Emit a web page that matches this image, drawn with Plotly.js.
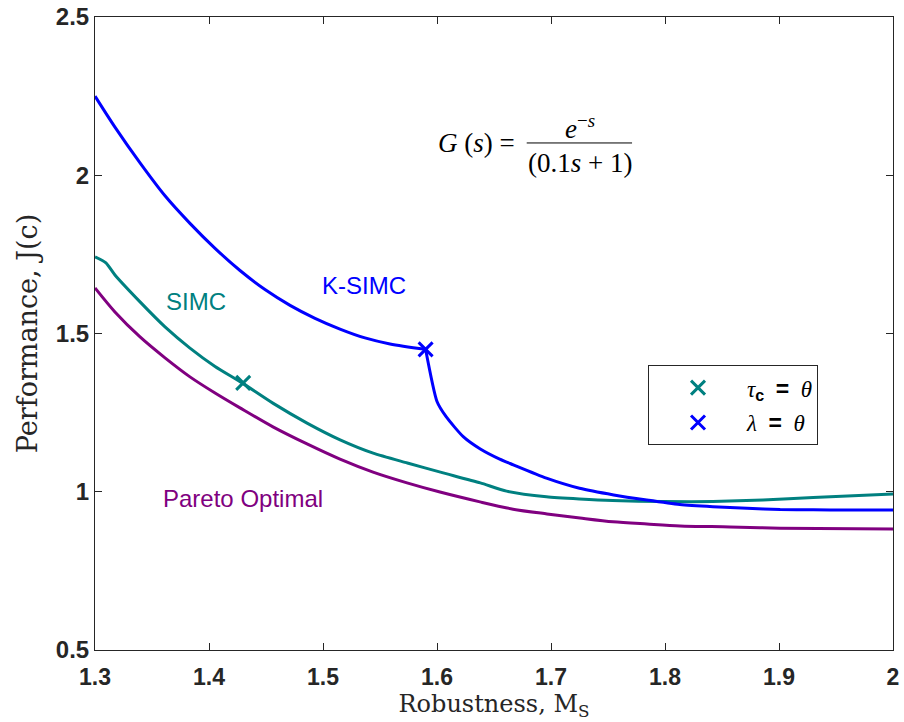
<!DOCTYPE html>
<html>
<head>
<meta charset="utf-8">
<script src="https://cdn.plot.ly/plotly-3.0.1.min.js"></script>
<style>html,body{margin:0;padding:0;background:#fff;}#chart{width:904px;height:722px;}</style>
</head>
<body>
<div id="chart"></div>
<script>
// K-SIMC (blue)
const ksimcX = [1.3, 1.3175, 1.3395, 1.3614, 1.3833, 1.4053, 1.4272, 1.4491, 1.4711, 1.493, 1.5149, 1.5368, 1.5588, 1.59, 1.600, 1.608, 1.623, 1.638, 1.655, 1.667, 1.696, 1.725, 1.755, 1.784, 1.813, 1.842, 1.872, 1.901, 1.93, 1.96, 2.0];
const ksimcY = [2.250, 2.152, 2.039, 1.935, 1.848, 1.769, 1.699, 1.639, 1.589, 1.548, 1.514, 1.486, 1.467, 1.450, 1.285, 1.237, 1.174, 1.135, 1.103, 1.085, 1.043, 1.011, 0.990, 0.974, 0.960, 0.953, 0.948, 0.944, 0.943, 0.942, 0.942];
// SIMC (teal)
const simcX = [1.3, 1.3096, 1.3175, 1.3395, 1.3614, 1.3833, 1.4053, 1.429, 1.456, 1.486, 1.515, 1.544, 1.574, 1.603, 1.638, 1.661, 1.696, 1.725, 1.754, 1.798, 1.842, 1.886, 1.93, 2.0];
const simcY = [1.742, 1.723, 1.685, 1.600, 1.521, 1.454, 1.396, 1.344, 1.280, 1.217, 1.164, 1.122, 1.091, 1.062, 1.028, 1.002, 0.984, 0.977, 0.972, 0.969, 0.969, 0.974, 0.982, 0.993];
// Pareto optimal (purple)
const paretoX = [1.3, 1.3175, 1.3395, 1.3614, 1.3833, 1.4053, 1.4272, 1.4561, 1.486, 1.5149, 1.5439, 1.5737, 1.6026, 1.6377, 1.6667, 1.6965, 1.7254, 1.7544, 1.7842, 1.8132, 1.857, 1.901, 2.0];
const paretoY = [1.644, 1.568, 1.489, 1.423, 1.363, 1.312, 1.265, 1.205, 1.151, 1.103, 1.062, 1.028, 0.999, 0.968, 0.945, 0.930, 0.917, 0.905, 0.898, 0.892, 0.889, 0.885, 0.882];
// Markers
const tauMarkX = [1.43], tauMarkY = [1.344];
const lambdaMarkX = [1.59], lambdaMarkY = [1.45];
// Ticks
const xTicks = [1.3, 1.4, 1.5, 1.6, 1.7, 1.8, 1.9, 2.0];
const xTickText = ['1.3', '1.4', '1.5', '1.6', '1.7', '1.8', '1.9', '2'];
const yTicks = [0.5, 1, 1.5, 2, 2.5];
const yTickText = ['0.5', '1', '1.5', '2', '2.5'];

const BLUE = '#0000ff', TEAL = '#008080', PURPLE = '#800080', AX = '#262626';
const SERIF = 'Liberation Serif, Times New Roman, serif';
const WSERIF = 'DejaVu Serif, serif';
const SANS = 'Liberation Sans, Arial, Helvetica, sans-serif';

// split K-SIMC at its kink (the λ = θ point) so each branch is smooth
const kink = ksimcX.indexOf(lambdaMarkX[0]);
const ksimcX1 = ksimcX.slice(0, kink + 1), ksimcY1 = ksimcY.slice(0, kink + 1);
const ksimcX2 = ksimcX.slice(kink), ksimcY2 = ksimcY.slice(kink);

const BOLD = s => '<span style="font-family:Liberation Sans,Arial;font-weight:bold">' + s + '</span>';

const traces = [
  {x: paretoX, y: paretoY, mode: 'lines', line: {color: PURPLE, width: 3, shape: 'spline', smoothing: 0.8}, showlegend: false, hoverinfo: 'skip'},
  {x: simcX, y: simcY, mode: 'lines', line: {color: TEAL, width: 3, shape: 'spline', smoothing: 0.6}, showlegend: false, hoverinfo: 'skip'},
  {x: ksimcX1, y: ksimcY1, mode: 'lines', line: {color: BLUE, width: 3, shape: 'spline', smoothing: 0.8}, showlegend: false, hoverinfo: 'skip'},
  {x: ksimcX2, y: ksimcY2, mode: 'lines', line: {color: BLUE, width: 3, shape: 'spline', smoothing: 0.6}, showlegend: false, hoverinfo: 'skip'},
  {x: tauMarkX, y: tauMarkY, mode: 'markers', legendgroup: 'a', marker: {symbol: 'x-thin', size: 14, color: TEAL, line: {color: TEAL, width: 3}},
   name: '<i>τ</i><sub>' + BOLD('c') + '</sub>  ' + BOLD('=') + '  <i>θ</i>'},
  {x: lambdaMarkX, y: lambdaMarkY, mode: 'markers', legendgroup: 'b', marker: {symbol: 'x-thin', size: 14, color: BLUE, line: {color: BLUE, width: 3}},
   name: '<i>λ</i>  ' + BOLD('=') + '  <i>θ</i>'}
];

const layout = {
  width: 904, height: 722,
  margin: {l: 95, r: 11, t: 17, b: 72},
  paper_bgcolor: '#fff', plot_bgcolor: '#fff',
  showlegend: true,
  legend: {x: 0.693, y: 0.45, xanchor: 'left', yanchor: 'top', bgcolor: '#fff', bordercolor: '#262626', borderwidth: 1,
           font: {family: SERIF, size: 23, color: '#000'}, itemwidth: 88, tracegroupgap: 2},
  xaxis: {range: [1.3, 2.0], tickvals: xTicks, ticktext: xTickText, ticks: 'inside', ticklen: 7, tickcolor: AX,
          showline: true, linecolor: AX, linewidth: 1, mirror: 'ticks', showgrid: false, zeroline: false,
          tickfont: {family: SANS, size: 23, weight: 'bold', color: AX}, ticklabelstandoff: 6,
          title: {text: 'Robustness, M<sub>S</sub>', font: {family: WSERIF, size: 24, color: AX}, standoff: 4}},
  yaxis: {range: [0.5, 2.5], tickvals: yTicks, ticktext: yTickText, ticks: 'inside', ticklen: 7, tickcolor: AX,
          showline: true, linecolor: AX, linewidth: 1, mirror: 'ticks', showgrid: false, zeroline: false,
          tickfont: {family: SANS, size: 24, weight: 'bold', color: AX},
          title: {text: 'Performance, J(c)', font: {family: WSERIF, size: 27, color: AX}, standoff: 10}},
  annotations: [
    {x: 1.536, y: 1.653, xref: 'x', yref: 'y', text: 'K-SIMC', showarrow: false, font: {family: SANS, size: 24, color: BLUE}},
    {x: 1.389, y: 1.600, xref: 'x', yref: 'y', text: 'SIMC', showarrow: false, font: {family: SANS, size: 24, color: TEAL}},
    {x: 1.430, y: 0.980, xref: 'x', yref: 'y', text: 'Pareto Optimal', showarrow: false, font: {family: SANS, size: 24, color: PURPLE}},
    {x: 0.529, y: 0.801, xref: 'paper', yref: 'paper', xanchor: 'right', yanchor: 'middle', showarrow: false,
     text: '<i>G</i> (<i>s</i>) =', font: {family: SERIF, size: 27, color: '#000'}},
    {x: 0.608, y: 0.827, xref: 'paper', yref: 'paper', xanchor: 'center', yanchor: 'middle', showarrow: false,
     text: '<i>e</i><sup>−<i>s</i></sup>', font: {family: SERIF, size: 27, color: '#000'}},
    {x: 0.608, y: 0.770, xref: 'paper', yref: 'paper', xanchor: 'center', yanchor: 'middle', showarrow: false,
     text: '(0.1<i>s</i> + 1)', font: {family: SERIF, size: 27, color: '#000'}}
  ],
  shapes: [
    {type: 'line', xref: 'paper', yref: 'paper', x0: 0.541, x1: 0.673, y0: 0.801, y1: 0.801, line: {color: '#000', width: 1}}
  ]
};

Plotly.newPlot('chart', traces, layout, {displayModeBar: false, staticPlot: true});
</script>
</body>
</html>
